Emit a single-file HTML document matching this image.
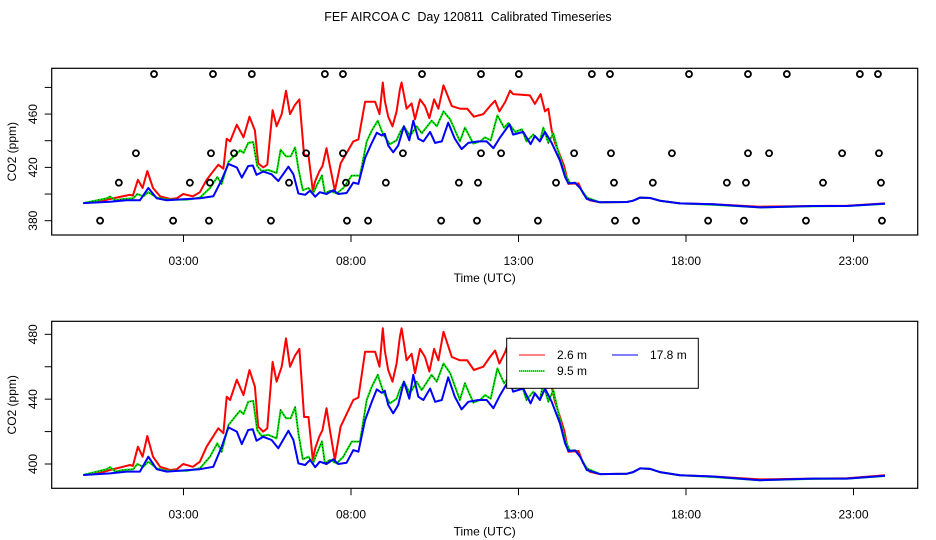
<!DOCTYPE html>
<html><head><meta charset="utf-8"><style>
html,body{margin:0;padding:0;background:#fff;}
svg{display:block;font-family:"Liberation Sans",sans-serif;}
</style></head><body>
<svg id="chart" width="936" height="540" viewBox="0 0 936 540">
<text x="468" y="21" text-anchor="middle" font-size="12.5" style="white-space:pre">FEF AIRCOA C  Day 120811  Calibrated Timeseries</text>
<g id="top"></g>
<g id="bot"></g>
</svg>
<script>
// ---- data ----
const redT=[0.01,0.51,0.81,1.40,1.49,1.64,1.78,1.92,2.09,2.30,2.60,2.80,2.99,3.28,3.49,3.69,4.04,4.19,4.29,4.39,4.59,4.79,4.97,5.13,5.23,5.38,5.50,5.66,5.78,5.93,6.06,6.18,6.33,6.46,6.60,6.73,6.86,6.93,7.05,7.15,7.27,7.37,7.52,7.69,8.07,8.22,8.42,8.72,8.85,8.95,9.01,9.11,9.24,9.36,9.46,9.51,9.66,9.81,9.91,10.06,10.21,10.34,10.48,10.61,10.76,11.01,11.25,11.47,11.67,11.95,12.15,12.30,12.43,12.60,12.75,12.84,13.34,13.49,13.66,13.79,13.89,13.99,14.09,14.24,14.36,14.49,14.79,14.93,15.13,15.43,16.24,16.42,16.63,16.93,17.22,17.82,18.81,20.21,21.79,22.81,23.94];
const redV=[393.2,394.6,396.3,399.4,398.8,410.7,404.5,417.3,404.5,398.3,396.3,396.8,400,398.3,401.4,410.7,422,419,441.5,439.5,452,442.5,458,447.7,423,420,422,463,450.8,460,477.5,460,467,471,429,429,402.5,409.7,416.8,421,434.4,421,402.5,423,439.5,441,469.3,469.3,460,483.7,470,458,450.8,462,478.5,483.7,464,468,456,471,466,457,471,464,481.6,466,464,464,458,460,466,470,462,469,477.5,475,474,467.6,475,462,464,447.7,438.4,429,421,407.6,408,400.4,395.2,393.8,394,395,397.3,397,395,393,392.3,390.5,391,391.2,393];
const greenT=[0.01,0.71,0.81,0.96,1.20,1.50,1.62,1.80,1.95,2.20,2.50,3.10,3.49,3.79,4.01,4.14,4.34,4.54,4.69,4.79,4.93,5.08,5.20,5.33,5.53,5.78,5.90,6.06,6.20,6.33,6.43,6.56,6.73,6.87,6.98,7.13,7.22,7.37,7.57,7.77,8.02,8.27,8.47,8.62,8.80,8.96,9.16,9.36,9.46,9.58,9.76,9.96,10.11,10.41,10.56,10.76,10.96,11.25,11.40,11.65,11.85,12.00,12.17,12.37,12.57,12.70,12.90,13.10,13.24,13.44,13.64,13.74,13.89,14.04,14.24,14.39,14.54,14.69,14.84,15.04,15.43,16.24,16.42,16.63,16.93,17.22,17.82,18.81,20.21,21.79,22.81,23.94];
const greenV=[393.2,396.8,398.1,395.3,396.3,396.8,400,398.3,401.4,397.3,395.8,395.8,397.3,404.5,412.8,407.6,424,429.2,432.9,430.8,438.4,439,421,417.3,418,415.8,433.3,428.2,428.2,435,419,402.9,404.5,400.4,406.6,413.8,400.4,402.5,400.4,404.5,413.8,413.8,439.5,447.7,455,444.6,437.4,440.3,446,450.8,443.6,450.8,445.6,455,450.8,462,456,439.5,449.8,437.9,439.5,442.5,440.3,459,449.8,453.3,446.6,448.6,439.5,444.6,439.5,449.8,438.4,445.6,427.1,414.8,408,408.4,404.5,397.3,393.8,394,395,397.3,397,395,393,392,390,390.8,391,392.6];
const blueT=[0.01,0.81,1.30,1.70,1.95,2.20,2.50,3.49,3.89,4.14,4.34,4.59,4.74,4.93,5.07,5.18,5.38,5.63,5.83,6.13,6.28,6.43,6.63,6.78,6.93,7.07,7.27,7.47,7.62,7.87,8.07,8.22,8.42,8.62,8.77,8.92,9.01,9.11,9.26,9.41,9.58,9.74,9.86,10.01,10.16,10.36,10.51,10.71,10.90,11.10,11.30,11.50,11.80,12.05,12.25,12.45,12.73,12.84,13.14,13.36,13.49,13.64,13.79,13.99,14.24,14.39,14.49,14.69,14.84,15.04,15.43,16.24,16.42,16.63,16.93,17.22,17.82,18.81,20.21,21.79,22.81,23.94];
const blueV=[393.2,394.2,395.3,395.3,404.5,396.8,395.3,396.8,398.3,410.7,422.6,420,412.3,421,421.4,414.4,416.8,414.8,409.7,420.5,414.8,400.4,399.4,402.5,398,401.4,400,402.9,400,400.8,408.6,407.6,427.1,438.4,446,443.9,445.2,436.4,431.3,436.4,450.8,440.3,455,441.5,439.5,446.6,438.4,439.5,453.5,441.5,433.7,438.4,439.5,439.5,434.4,442.5,452.3,444.6,446.6,437.4,443.6,439.5,446.6,438.4,425,412.8,408,408.4,404.5,396.3,393.8,394,395,397.3,397,395,393,392.3,390,391,391,392.8];
const circleT=[2.12,3.88,5.04,7.22,7.76,10.12,11.88,13.01,15.19,15.73,18.09,19.85,21.01,23.19,23.73,
 1.58,3.82,4.51,6.66,7.76,9.55,11.88,12.48,14.66,15.76,17.58,19.85,20.48,22.66,23.76,
 1.07,3.19,3.79,6.15,7.85,9.04,11.22,11.79,14.12,15.85,17.01,19.22,19.79,22.09,23.82,
 0.51,2.69,3.76,5.61,7.88,8.51,10.69,11.76,13.58,15.88,16.51,18.66,19.73,21.58,23.85];
const circleV=[490,490,490,490,490,490,490,490,490,490,490,490,490,490,490,
 430.6,430.6,430.6,430.6,430.6,430.6,430.6,430.6,430.6,430.6,430.6,430.6,430.6,430.6,430.6,
 408.5,408.5,408.5,408.5,408.5,408.5,408.5,408.5,408.5,408.5,408.5,408.5,408.5,408.5,408.5,
 380,380,380,380,380,380,380,380,380,380,380,380,380,380,380];
const xTickHours=[3,8,13,18,23];
const xTickLabels=["03:00","08:00","13:00","18:00","23:00"];
const topTicks=[380,400,420,440,460,480];
const topLabels=[380,420,460];
const botTicks=[400,420,440,460,480];
const botLabels=[400,440,480];

const NS="http://www.w3.org/2000/svg";
function mk(tag,attrs,parent){const e=document.createElementNS(NS,tag);for(const k in attrs)e.setAttribute(k,attrs[k]);parent.appendChild(e);return e;}
const X0=51.7,X1=917.7;
const xs=h=>83+33.5*h;

function panel(g,top,bot,ppm0,y0,pxPer,yt,yl,circles,legend){
  const ys=v=>y0-(v-ppm0)*pxPer;
  const box=mk('rect',{x:X0,y:top,width:X1-X0,height:bot-top,fill:'none',stroke:'#000','stroke-width':1.2},g);
  
  
  xTickHours.forEach((h,i)=>{
    const t=mk('line',{x1:xs(h),x2:xs(h),y1:bot,y2:bot+7,stroke:'#000'},g);
    
    
    const l=mk('text',{x:xs(h),y:bot+30,'text-anchor':'middle','font-size':12},g);
    l.textContent=xTickLabels[i];
    
    
  });
  const xt=mk('text',{x:(X0+X1)/2,y:bot+47,'text-anchor':'middle','font-size':12},g);
  xt.textContent='Time (UTC)';
  
  
  yt.forEach(v=>{
    const t=mk('line',{x1:X0-7,x2:X0,y1:ys(v),y2:ys(v),stroke:'#000'},g);
    
    
  });
  yl.forEach(v=>{
    const l=mk('text',{x:0,y:0,'text-anchor':'middle','font-size':12,transform:`translate(37,${ys(v)}) rotate(-90)`},g);
    l.textContent=String(v);
    
    
  });
  const yti=mk('text',{x:0,y:0,'text-anchor':'middle','font-size':12,transform:`translate(16,${(top+bot)/2}) rotate(-90)`},g);
  yti.textContent='CO2 (ppm)';
  
  
  const series=[[redT,redV,'#ff0000','series-2-6m'],[greenT,greenV,'#00e600','series-9-5m'],[blueT,blueV,'#0000ff','series-17-8m']];
  series.forEach(([T,V,c,n])=>{
    const d=T.map((t,i)=>(i?'L':'M')+xs(t).toFixed(1)+','+ys(V[i]).toFixed(1)).join('');
    const p=mk('path',{d:d,fill:'none',stroke:c,'stroke-width':2,'stroke-linejoin':'round'},g);
    
    
    if(n==='series-9-5m'){
      const p2=mk('path',{d:d,fill:'none',stroke:'#000','stroke-width':0.8,'stroke-dasharray':'1 2'},g);
      
      
    }
  });
  if(circles){
    circleT.forEach((t,i)=>{
      const c=mk('circle',{cx:xs(t),cy:ys(circleV[i]),r:3,fill:'none',stroke:'#000','stroke-width':1.8},g);
      
      
    });
  }
  if(legend){
    const lg=mk('g',{},g);
    
    
    mk('rect',{x:506.7,y:338.3,width:191.6,height:50,fill:'#fff',stroke:'#000','stroke-width':1},lg);
    const ents=[[519,355,'#ff0000','2.6 m',557],[519,371,'#00e600','9.5 m',557],[612,355,'#0000ff','17.8 m',650]];
    ents.forEach(([x,y,c,t,tx])=>{
      const ln=mk('line',{x1:x,x2:x+26,y1:y,y2:y,stroke:c,'stroke-width':1},lg);
      
      
      if(t==='9.5 m'){mk('line',{x1:x,x2:x+26,y1:y,y2:y,stroke:'#000','stroke-width':1,'stroke-dasharray':'1 1'},lg);}
      const tt=mk('text',{x:tx,y:y+4,'font-size':12},lg);
      tt.textContent=t;
      
      
    });
  }
}
panel(document.getElementById('top'),68.3,235,380,220.7,1.333,topTicks,topLabels,true,false);
panel(document.getElementById('bot'),321.3,488.3,400,464,1.621,botTicks,botLabels,false,true);
</script>
</body></html>
